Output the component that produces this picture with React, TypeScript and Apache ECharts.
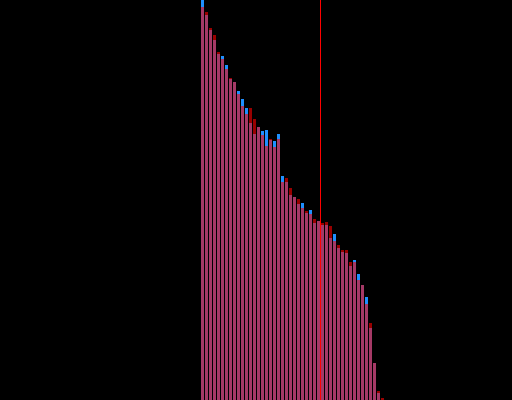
import React, { useEffect, useRef } from "react";
import * as echarts from "echarts";

// bin positions (x) for 46 bins
const binIndex: number[] = Array.from({ length: 46 }, (_, i) => i + 0.5);

const blueValues: number[] = [
  100, 96.25, 92.5, 90, 86.5, 86, 83.75, 80.25, 79.5, 77.25,
  75.25, 73, 69.25, 66.5, 68.25, 67.25, 67.5, 65, 64.75, 66.5,
  56, 54.5, 51.25, 50.75, 49, 49.25, 46.75, 47.5, 44.25, 44.75,
  43.75, 43.75, 40.5, 41.5, 38, 37, 36.75, 33.5, 35, 31.5,
  28.75, 25.75, 18, 9.25, 1.75, 0,
];

const redValues: number[] = [
  98.25, 97, 93, 91.25, 87, 85.25, 82.75, 80.5, 79.5, 76.5,
  73.5, 71.5, 73, 70.25, 68.25, 66.25, 63.5, 65.25, 63.25, 65.25,
  54.5, 55.5, 53, 50.75, 50.25, 48, 47.25, 46.5, 45.25, 44.75,
  44.25, 44.5, 43.5, 39.75, 38.75, 37.5, 37.5, 34.5, 34.5, 30,
  28.75, 24, 19.25, 9.25, 2.25, 0.5,
];

const markerX = 30;

export default function App() {
  const ref = useRef<HTMLDivElement>(null);
  useEffect(() => {
    if (!ref.current) return;
    const chart = echarts.init(ref.current, null, { renderer: "svg" });
    chart.setOption({
      animation: false,
      backgroundColor: "#000000",
      grid: { left: 200.5, right: 127.5, top: 0, bottom: 0, containLabel: false },
      xAxis: {
        type: "value",
        min: 0,
        max: 46,
        show: false,
        splitLine: { show: false },
      },
      yAxis: {
        type: "value",
        min: 0,
        max: 100,
        show: false,
        splitLine: { show: false },
      },
      series: [
        {
          type: "bar",
          data: binIndex.map((x, i) => [x, blueValues[i]]),
          barWidth: 3,
          barGap: "-100%",
          itemStyle: { color: "#1e90ff" },
          silent: true,
        },
        {
          type: "bar",
          data: binIndex.map((x, i) => [x, redValues[i]]),
          barWidth: 3,
          barGap: "-100%",
          itemStyle: { color: "#ff0000", opacity: 0.6 },
          silent: true,
          markLine: {
            silent: true,
            symbol: "none",
            label: { show: false },
            lineStyle: { color: "#ff0000", width: 1, type: "solid", opacity: 1 },
            data: [{ xAxis: markerX }],
          },
        },
      ],
    });
    return () => chart.dispose();
  }, []);
  return (
    <div
      ref={ref}
      style={{ position: "fixed", left: 0, top: 0, width: 512, height: 400 }}
    />
  );
}
